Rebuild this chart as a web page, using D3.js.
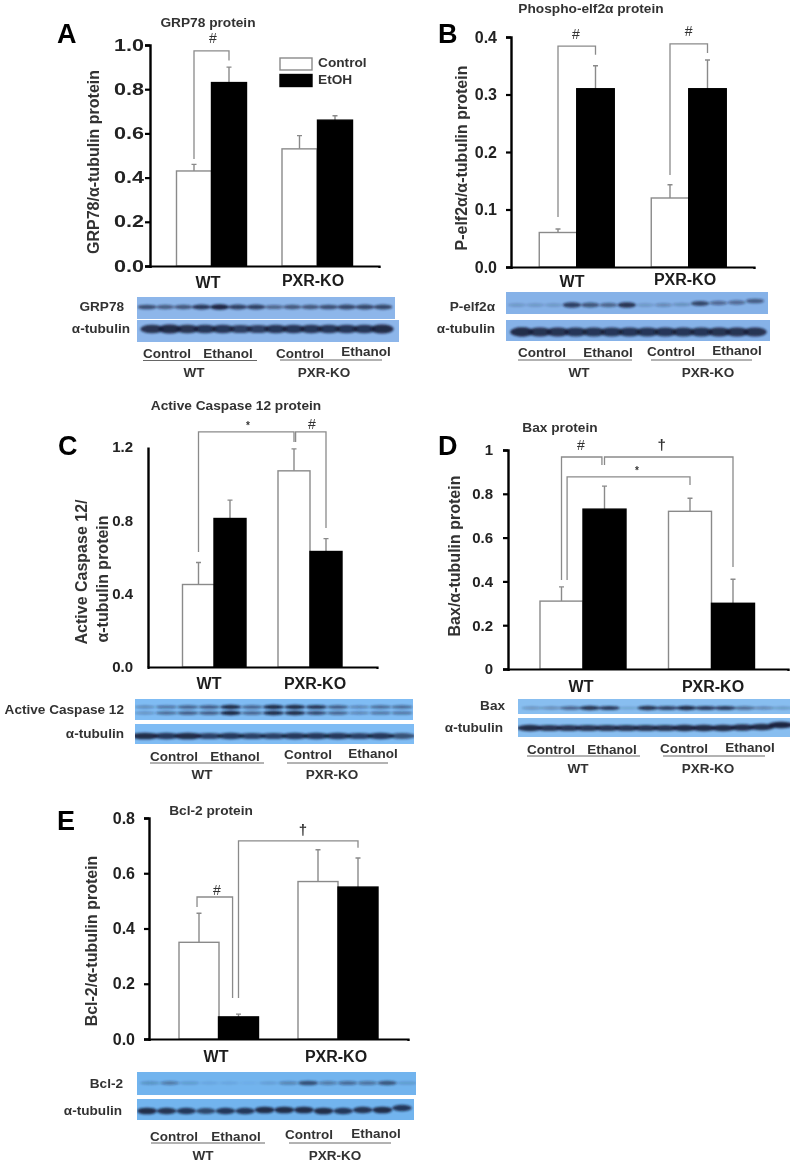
<!DOCTYPE html>
<html><head><meta charset="utf-8">
<script src="https://cdn.jsdelivr.net/npm/d3@7/dist/d3.min.js"></script>
<style>html,body{margin:0;padding:0;background:#fff}svg{display:block}text{font-family:"Liberation Sans",Arial,sans-serif;font-weight:700;fill:#1c1c1c}</style>
</head><body><svg id="c" width="794" height="1163"></svg>
<script>
// ---------- data ----------
const groups = ["WT", "PXR-KO"];
const seriesNames = ["Control", "EtOH"];

const aControl = [0.43, 0.53], aEtoh = [0.83, 0.66], aControlHi = [0.46, 0.59], aEtohHi = [0.90, 0.68];
const bControl = [0.06, 0.12], bEtoh = [0.31, 0.31], bControlHi = [0.066, 0.143], bEtohHi = [0.35, 0.36];
const cControl = [0.45, 1.07], cEtoh = [0.81, 0.63], cControlHi = [0.57, 1.19], cEtohHi = [0.91, 0.70];
const dControl = [0.31, 0.72], dEtoh = [0.73, 0.30], dControlHi = [0.375, 0.78], dEtohHi = [0.835, 0.41];
const eControl = [0.35, 0.57], eEtoh = [0.08, 0.55], eControlHi = [0.455, 0.685], eEtohHi = [0.09, 0.655];

const aTicks = [0, 0.2, 0.4, 0.6, 0.8, 1.0];
const bTicks = [0, 0.1, 0.2, 0.3, 0.4];
const cTicks = [0, 0.4, 0.8, 1.2];
const dTicks = [0, 0.2, 0.4, 0.6, 0.8, 1];
const eTicks = [0, 0.2, 0.4, 0.6, 0.8];

// brackets: [leftSlot, leftValue, topValue, rightSlot, rightValue]; slot 0..3 = bar index
const aBrackets = [[0, 0.484, 0.973, 1, 0.93]];
const bBrackets = [[0, 0.087, 0.384, 1, 0.369], [2, 0.16, 0.388, 3, 0.372]];
const cBrackets = [[0, 0.627, 1.282, 2, 1.227], [2.05, 1.227, 1.282, 3, 0.758]];
const dBrackets = [[0, 0.406, 0.968, 0.94, 0.932], [1, 0.932, 0.968, 3, 0.466], [0.13, 0.406, 0.877, 2, 0.84]];
const eBrackets = [[-0.05, 0.478, 0.514, 0.85, 0.148], [1, 0.148, 0.717, 3, 0.692]];

// significance marks: [symbol, slot, value]
const aMarks = [["#", 0.54, 1.009]];
const bMarks = [["#", 0.48, 0.397], ["#", 2.5, 0.402]];
const cMarks = [["*", 1.28, 1.298], ["#", 2.56, 1.298]];
const dMarks = [["#", 0.45, 1.0], ["†", 1.67, 1.0], ["*", 1.38, 0.89]];
const eMarks = [["#", 0.45, 0.522], ["†", 1.81, 0.739]];

// western-blot band strength per lane
const grp78Lanes = [.7,.6,.65,.85,1,.8,.8,.55,.65,.65,.7,.75,.75,.75];
const aTubLanes  = [.9,.95,.9,.85,.85,.8,.8,.85,.85,.85,.85,.85,.85,.95];
const pelfLanes  = [.2,.2,.2,.8,.65,.55,.9,.2,.3,.25,.75,.5,.5,.6];
const bTubLanes  = [.95,.9,.9,.85,.85,.85,.85,.85,.85,.85,.85,.9,.9,.9];
const casUpLanes = [.35,.5,.6,.65,.95,.6,.95,.95,.9,.65,.4,.55,.55];
const casLoLanes = [.3,.55,.65,.65,1,.6,.95,.95,.75,.6,.4,.5,.5];
const cTubLanes  = [.95,.85,.95,.8,.85,.8,.8,.85,.85,.85,.8,.85,.7];
const baxLanes   = [.3,.35,.6,.9,.85,.2,.9,.8,.95,.85,.85,.55,.4,.25];
const dTubLanes  = [.95,.9,.9,.9,.9,.9,.9,.9,.95,.95,.95,.95,.95,1];
const bclLanes   = [.25,.4,.2,.1,.1,.05,.15,.35,.7,.4,.5,.45,.65,.2];
const eTubLanes  = [.95,.9,.85,.75,.85,.85,.95,.95,.95,.95,.85,.9,.95,.85];

// ---------- layout ----------
const panels = [
 {letter:"A", lx:57,ly:43, title:"GRP78 protein", tx:208,ty:27, control:aControl,etoh:aEtoh,controlHi:aControlHi,etohHi:aEtohHi,
  ticks:aTicks,fmt:d3.format(".1f"),max:1,axX:150,top:45,bot:266,xEnd:379,tick:5,pad:1,tickFont:16,tickLen:30,
  centers:[194,229,299.5,335],w:35,brackets:aBrackets,marks:aMarks,
  ytitle:["GRP78/α-tubulin protein"],yx:[94],yy:[162],
  cats:[[208,288],[313,286]],
  blots:[{label:"GRP78",lab:[124,311],x0:137,x1:395,y0:297,y1:319,col:"#8db6ea",lanes:[[grp78Lanes,307]],l0:147,l1:383,h:2.4,fill:.52},
         {label:"α-tubulin",lab:[130,333],x0:137,x1:399,y0:320,y1:342,col:"#8db6ea",lanes:[[aTubLanes,329]],l0:152,l1:382,h:4,fill:.66}],
  under:{y:[[167,358],[228,358],[300,358],[366,356]],l:[[143,257,360.5],[280,382,360]],g:[[194,377],[324,377]]}},
 {letter:"B", lx:438,ly:43, title:"Phospho-elf2α protein", tx:591,ty:13, control:bControl,etoh:bEtoh,controlHi:bControlHi,etohHi:bEtohHi,
  ticks:bTicks,fmt:d3.format(".1f"),max:.4,axX:511,top:37,bot:267,xEnd:754,tick:5,pad:9,tickFont:16,
  centers:[558,595.5,670,707.5],w:37.5,brackets:bBrackets,marks:bMarks,
  ytitle:["P-elf2α/α-tubulin protein"],yx:[462],yy:[158],
  cats:[[572,287],[685,285]],
  blots:[{label:"P-elf2α",lab:[495,311],x0:506,x1:768,y0:292,y1:314,col:"#86b2e8",lanes:[[pelfLanes,305]],l0:517,l1:755,h:2.6,fill:.5,drift:[0,0,0,0,0,0,0,0,0,-.5,-1.5,-2,-2.5,-4]},
         {label:"α-tubulin",lab:[495,333],x0:506,x1:770,y0:320,y1:341,col:"#86b2e8",lanes:[[bTubLanes,332]],l0:522,l1:755,h:4.2,fill:.66}],
  under:{y:[[542,357],[608,357],[671,356],[737,355]],l:[[518,632,360],[651,752,360]],g:[[579,377],[708,377]]}},
 {letter:"C", lx:58,ly:455, title:"Active Caspase 12 protein", tx:236,ty:410, control:cControl,etoh:cEtoh,controlHi:cControlHi,etohHi:cEtohHi,
  ticks:cTicks,fmt:d3.format(".1f"),max:1.2,axX:148,top:447,bot:667,xEnd:377,tick:0,pad:15,tickFont:15,
  centers:[198.5,230,294,326],w:32,brackets:cBrackets,marks:cMarks,
  ytitle:["Active Caspase 12/","α-tubulin protein"],yx:[82,103],yy:[572,579],
  cats:[[209,689],[315,689]],
  blots:[{label:"Active Caspase 12",lab:[124,714],x0:135,x1:413,y0:699,y1:720,col:"#7fbcf4",lanes:[[casUpLanes,707],[casLoLanes,713]],l0:145,l1:402,h:1.9,fill:.5},
         {label:"α-tubulin",lab:[124,738],x0:135,x1:414,y0:724,y1:744,col:"#7fbcf4",lanes:[[cTubLanes,736]],l0:145,l1:402,h:3,fill:.64}],
  under:{y:[[174,761],[235,761],[308,759],[373,758]],l:[[150,264,763],[287,388,763]],g:[[202,779],[332,779]]}},
 {letter:"D", lx:438,ly:455, title:"Bax protein", tx:560,ty:432, control:dControl,etoh:dEtoh,controlHi:dControlHi,etohHi:dEtohHi,
  ticks:dTicks,fmt:d=>d===0||d===1?String(d):d3.format(".1f")(d),max:1,axX:508,top:450,bot:669,xEnd:788,tick:5,pad:10,tickFont:15,
  centers:[561.5,604.5,690,733],w:43,brackets:dBrackets,marks:dMarks,
  ytitle:["Bax/α-tubulin protein"],yx:[455],yy:[556],
  cats:[[581,692],[713,692]],
  blots:[{label:"Bax",lab:[505,710],x0:518,x1:790,y0:699,y1:714,col:"#88bef0",lanes:[[baxLanes,708]],l0:532,l1:783,h:2,fill:.55},
         {label:"α-tubulin",lab:[503,732],x0:518,x1:790,y0:718,y1:737,col:"#88bef0",lanes:[[dTubLanes,728]],l0:530,l1:781,h:2.8,fill:.66,drift:[0,0,0,0,0,0,0,0,0,0,0,-.5,-1,-3]}],
  under:{y:[[551,754],[612,754],[684,753],[750,752]],l:[[527,640,756],[663,765,756]],g:[[578,773],[708,773]]}},
 {letter:"E", lx:57,ly:830, title:"Bcl-2 protein", tx:211,ty:815, control:eControl,etoh:eEtoh,controlHi:eControlHi,etohHi:eEtohHi,
  ticks:eTicks,fmt:d3.format(".1f"),max:.8,axX:149,top:818,bot:1039,xEnd:408,tick:5,pad:9,tickFont:16,
  centers:[199,238.5,318,358],w:40,brackets:eBrackets,marks:eMarks,
  ytitle:["Bcl-2/α-tubulin protein"],yx:[92],yy:[941],
  cats:[[216,1062],[336,1062]],
  blots:[{label:"Bcl-2",lab:[123,1088],x0:137,x1:416,y0:1072,y1:1095,col:"#72b4ee",lanes:[[bclLanes,1083]],l0:150,l1:407,h:2.4,fill:.5},
         {label:"α-tubulin",lab:[122,1115],x0:137,x1:414,y0:1099,y1:1120,col:"#72b4ee",lanes:[[eTubLanes,1111]],l0:147,l1:402,h:3,fill:.5,drift:[0,0,0,0,0,0,-1,-1,-1,0,0,-1,-1,-3]}],
  under:{y:[[174,1141],[236,1141],[309,1139],[376,1138]],l:[[151,265,1143],[289,391,1143]],g:[[203,1160],[335,1160]]}}
];

const GRAY = "#8a8a8a";
const svg = d3.select("#c");
const defs = svg.append("defs");
defs.append("filter").attr("id","soft").attr("x","-2%").attr("y","-2%").attr("width","104%").attr("height","104%")
  .append("feGaussianBlur").attr("stdDeviation",0.4);
defs.append("filter").attr("id","band").attr("x","-30%").attr("y","-100%").attr("width","160%").attr("height","300%")
  .append("feGaussianBlur").attr("stdDeviation",0.9);
const root = svg.append("g").attr("filter","url(#soft)");
let clipId = 0;

panels.forEach(p => {
  const g = root.append("g");
  const y = d3.scaleLinear().domain([0,p.max]).range([p.bot,p.top]);
  const slot = d3.scaleLinear().domain([0,1,2,3]).range(p.centers);

  g.append("text").attr("x",p.lx).attr("y",p.ly).attr("font-size",27).style("fill","#000").text(p.letter);
  g.append("text").attr("x",p.tx).attr("y",p.ty).attr("text-anchor","middle").attr("font-size",13.7).style("fill","#333").text(p.title);

  // bars: slot order = WT control, WT EtOH, KO control, KO EtOH
  const rows = groups.flatMap((name,i)=>[
    {s:i*2,   v:p.control[i], hi:p.controlHi[i], fill:"#fff", stroke:GRAY},
    {s:i*2+1, v:p.etoh[i],    hi:p.etohHi[i],    fill:"#000", stroke:"#000"}]);
  // error bars
  g.selectAll(".eb").data(rows).join("path").attr("fill","none").attr("stroke",GRAY).attr("stroke-width",1.4)
    .attr("d",d=>`M${slot(d.s)},${y(d.v)}V${y(d.hi)}M${slot(d.s)-2.5},${y(d.hi)}H${slot(d.s)+2.5}`);
  // control first so black bars overlap the shared edge
  g.selectAll(".bar").data(rows.slice().sort((a,b)=>a.s%2-b.s%2)).join("rect")
    .attr("x",d=>slot(d.s)-p.w/2).attr("width",p.w)
    .attr("y",d=>y(d.v)).attr("height",d=>y(0)-y(d.v))
    .attr("fill",d=>d.fill).attr("stroke",d=>d.stroke).attr("stroke-width",1.4);

  // brackets
  g.selectAll(".br").data(p.brackets).join("path").attr("fill","none").attr("stroke",GRAY).attr("stroke-width",1.3)
    .attr("d",b=>`M${slot(b[0])},${y(b[1])}V${y(b[2])}H${slot(b[3])}V${y(b[4])}`);
  g.selectAll(".mk").data(p.marks).join("text").attr("text-anchor","middle")
    .attr("x",m=>slot(m[1])).attr("y",m=>y(m[2])).attr("font-size",m=>m[0]==="#"?14:m[0]==="*"?10:15)
    .style("font-weight",m=>m[0]==="#"?400:700).style("fill","#333").text(m=>m[0]);

  // axes
  const ax = g.append("g").attr("transform",`translate(${p.axX},0)`)
    .call(d3.axisLeft(y).tickValues(p.ticks).tickFormat(p.fmt).tickSizeOuter(0).tickSize(p.tick).tickPadding(p.pad));
  ax.select(".domain").attr("stroke","#000").attr("stroke-width",2.4);
  ax.selectAll(".tick line").attr("stroke","#000").attr("stroke-width",2.2);
  const tl = ax.selectAll(".tick text").attr("font-size",p.tickFont).style("font-family",'"Liberation Sans",Arial,sans-serif').style("font-weight",700).style("fill","#222");
  if (p.tickLen) tl.attr("textLength",p.tickLen).attr("lengthAdjust","spacingAndGlyphs");
  const xx = d3.scaleLinear().domain([0,1]).range([p.axX,p.xEnd]);
  const bx = g.append("g").attr("transform",`translate(0,${p.bot})`)
    .call(d3.axisBottom(xx).tickValues(p.tick?[1]:[]).tickFormat("").tickSizeOuter(0).tickSize(2));
  bx.select(".domain").attr("stroke","#000").attr("stroke-width",2.2);
  bx.selectAll(".tick line").attr("stroke","#000").attr("stroke-width",1.5);

  // axis titles
  p.ytitle.forEach((t,i)=>g.append("text").attr("text-anchor","middle")
    .attr("transform",`translate(${p.yx[i]+5},${p.yy[i]}) rotate(-90)`).attr("font-size",16).style("fill","#333").text(t));
  groups.forEach((t,i)=>g.append("text").attr("x",p.cats[i][0]).attr("y",p.cats[i][1]).attr("text-anchor","middle").attr("font-size",16).text(t));

  // blots
  p.blots.forEach(b=>{
    const id = "blot"+(clipId++);
    defs.append("clipPath").attr("id",id).append("rect").attr("x",b.x0).attr("y",b.y0).attr("width",b.x1-b.x0).attr("height",b.y1-b.y0);
    g.append("text").attr("x",b.lab[0]).attr("y",b.lab[1]).attr("text-anchor","end").attr("font-size",13.6).style("fill","#333").text(b.label);
    g.append("rect").attr("x",b.x0).attr("y",b.y0).attr("width",b.x1-b.x0).attr("height",b.y1-b.y0).attr("fill",b.col);
    const clipped = g.append("g").attr("clip-path",`url(#${id})`);
    b.lanes.forEach(([vals,yy])=>{
      const lane = d3.scalePoint().domain(d3.range(vals.length)).range([b.l0,b.l1]);
      const rx = lane.step()*b.fill;
      clipped.append("g").attr("filter","url(#band)").selectAll("ellipse").data(vals).join("ellipse")
        .attr("cx",(d,i)=>lane(i)).attr("cy",(d,i)=>yy+(b.drift?b.drift[i]:0)).attr("rx",rx).attr("ry",d=>b.h*(0.55+0.6*d))
        .attr("fill","#141c38").attr("fill-opacity",d=>Math.min(1,d*0.95));
    });
  });

  // labels under the blots
  const names = ["Control","Ethanol","Control","Ethanol"];
  p.under.y.forEach((c,i)=>g.append("text").attr("x",c[0]).attr("y",c[1]).attr("text-anchor","middle").attr("font-size",13.5).style("fill","#333").text(names[i]));
  p.under.l.forEach(l=>g.append("line").attr("x1",l[0]).attr("x2",l[1]).attr("y1",l[2]).attr("y2",l[2]).attr("stroke","#666").attr("stroke-width",1));
  p.under.g.forEach((c,i)=>g.append("text").attr("x",c[0]).attr("y",c[1]).attr("text-anchor","middle").attr("font-size",13.5).style("fill","#333").text(groups[i]));
});

// legend (panel A)
const leg = root.append("g");
const legY = d3.scalePoint().domain(seriesNames).range([64,80.5]);
leg.selectAll("rect").data(seriesNames).join("rect")
  .attr("x",280).attr("y",d=>legY(d)-6).attr("width",32).attr("height",12)
  .attr("fill",(d,i)=>i?"#000":"#fff").attr("stroke",(d,i)=>i?"#000":GRAY).attr("stroke-width",1.4);
leg.selectAll("text").data(seriesNames).join("text")
  .attr("x",318).attr("y",d=>legY(d)+3).attr("font-size",13.7).style("fill","#333").text(d=>d);
</script></body></html>
